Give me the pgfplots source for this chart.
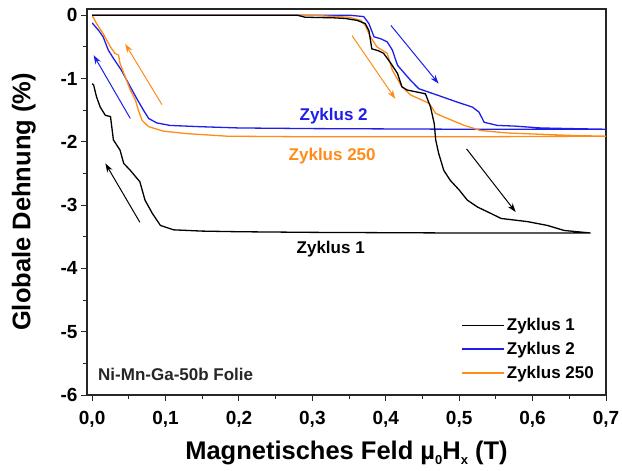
\documentclass[border=0pt]{standalone}
\usepackage{fontspec}
\setmainfont{Liberation Sans}
\usepackage{pgfplots}
\pgfplotsset{compat=1.18}
\usetikzlibrary{arrows.meta}
\definecolor{cblue}{RGB}{30,30,235}
\definecolor{corange}{RGB}{255,140,25}
\begin{document}
\begin{tikzpicture}
\begin{axis}[
  name=ax,
  scale only axis, width=519pt, height=386pt,
  xmin=-0.007, xmax=0.7, ymin=-6, ymax=0.1,
  xtick={0,0.1,0.2,0.3,0.4,0.5,0.6,0.7},
  xticklabels={{0,0},{0,1},{0,2},{0,3},{0,4},{0,5},{0,6},{0,7}},
  ytick={-6,-5,-4,-3,-2,-1,0},
  yticklabels={-6,-5,-4,-3,-2,-1,0},
  minor x tick num=1, minor y tick num=1,
  tick align=outside, tick pos=left,
  major tick length=6pt, minor tick length=3.5pt,
  every tick/.style={black!85, line width=1pt},
  axis line style={line width=1.2pt, black!85},
  ticklabel style={font=\fontsize{19}{22}\selectfont\bfseries},
  xticklabel style={yshift=-7pt},
  xlabel={Magnetisches Feld µ\raisebox{-0.4ex}{\fontsize{13}{13}\selectfont 0}H\raisebox{-0.4ex}{\fontsize{13}{13}\selectfont x} (T)},
  ylabel={Globale Dehnung (\%)},
  xlabel shift=6pt, ylabel shift=18pt,
  label style={font=\fontsize{25.5}{28}\selectfont\bfseries},
  legend style={draw=none, fill=none, at={(1,0)}, anchor=south east, xshift=-9pt, yshift=12pt,
     font=\fontsize{17}{20}\selectfont\bfseries, inner sep=1pt, row sep=6pt},
  legend cell align=left,
  legend image code/.code={\draw[#1] (0pt,0pt) -- (42pt,0pt);},
  clip=true,
]
\addlegendimage{black, line width=1.3pt}
\addlegendentry{Zyklus 1}
\addlegendimage{cblue, line width=1.3pt}
\addlegendentry{Zyklus 2}
\addlegendimage{corange, line width=1.3pt}
\addlegendentry{Zyklus 250}

% Zyklus 2
\addplot[cblue, line width=1.3pt, forget plot] coordinates {
(0.0,0.0) (0.15,0.0) (0.3,0.0) (0.352,0.0) (0.37,-0.02) (0.377,-0.13) (0.384,-0.34)
(0.393,-0.37) (0.402,-0.42) (0.409,-0.55) (0.416,-0.79) (0.434,-1.03) (0.445,-1.16)
(0.47,-1.26) (0.497,-1.37) (0.518,-1.45) (0.527,-1.53) (0.534,-1.69) (0.552,-1.74)
(0.575,-1.75) (0.611,-1.78) (0.652,-1.79) (0.7,-1.80)
(0.5,-1.80) (0.3,-1.79) (0.2,-1.78) (0.147,-1.76) (0.106,-1.74) (0.088,-1.70) (0.077,-1.63)
(0.07,-1.5) (0.061,-1.32) (0.052,-1.13) (0.04,-0.87) (0.029,-0.68) (0.022,-0.55)
(0.015,-0.34) (0.009,-0.24) (0.0,-0.12)
};
% Zyklus 250
\addplot[corange, line width=1.3pt, forget plot] coordinates {
(0.0,0.0) (0.15,0.0) (0.3,0.0) (0.35,-0.03) (0.366,-0.08) (0.372,-0.16) (0.379,-0.34)
(0.388,-0.5) (0.402,-0.6) (0.409,-0.87) (0.422,-1.13) (0.434,-1.26) (0.459,-1.39)
(0.468,-1.55) (0.484,-1.63) (0.507,-1.74) (0.529,-1.82) (0.566,-1.86) (0.611,-1.88)
(0.657,-1.9) (0.7,-1.91)
(0.5,-1.92) (0.3,-1.92) (0.184,-1.91) (0.129,-1.87) (0.097,-1.83) (0.077,-1.76) (0.068,-1.66)
(0.063,-1.5) (0.059,-1.34) (0.052,-1.18) (0.045,-0.97) (0.038,-0.76) (0.036,-0.63)
(0.031,-0.6) (0.025,-0.5) (0.015,-0.29) (0.006,-0.13) (0.0,0.0)
};
% Zyklus 1
\addplot[black, line width=1.3pt, forget plot] coordinates {
(0.0,0.0) (0.1,0.0) (0.2,0.0) (0.28,0.0) (0.29,-0.03) (0.33,-0.04) (0.345,-0.05)
(0.361,-0.08) (0.372,-0.13) (0.377,-0.24) (0.381,-0.53) (0.39,-0.56) (0.397,-0.6)
(0.407,-0.76) (0.416,-0.92) (0.422,-1.13) (0.429,-1.18) (0.454,-1.24) (0.461,-1.45)
(0.466,-1.71) (0.468,-1.97) (0.472,-2.18) (0.479,-2.45) (0.488,-2.61) (0.5,-2.76)
(0.511,-2.92) (0.525,-3.03) (0.543,-3.13) (0.557,-3.21) (0.593,-3.26) (0.62,-3.32)
(0.643,-3.4) (0.679,-3.44)
(0.5,-3.44) (0.3,-3.43) (0.2,-3.42) (0.15,-3.41) (0.111,-3.39) (0.093,-3.32) (0.082,-3.13)
(0.072,-2.92) (0.065,-2.63) (0.052,-2.45) (0.043,-2.34) (0.038,-2.13) (0.029,-1.97)
(0.025,-1.6) (0.018,-1.58) (0.011,-1.45) (0.006,-1.29) (0.002,-1.1) (0.0,-1.08)
};
% arrows
\addplot[black, line width=1pt, -{Stealth[length=9pt,width=6pt]}, forget plot] coordinates {(0.065,-3.27) (0.018,-2.34)};
\addplot[cblue, line width=1pt, -{Stealth[length=9pt,width=6pt]}, forget plot] coordinates {(0.052,-1.63) (0.002,-0.63)};
\addplot[corange, line width=1pt, -{Stealth[length=9pt,width=6pt]}, forget plot] coordinates {(0.095,-1.41) (0.045,-0.45)};
\addplot[corange, line width=1pt, -{Stealth[length=9pt,width=6pt]}, forget plot] coordinates {(0.354,-0.32) (0.413,-1.32)};
\addplot[cblue, line width=1pt, -{Stealth[length=9pt,width=6pt]}, forget plot] coordinates {(0.407,-0.16) (0.472,-1.08)};
\addplot[black, line width=1pt, -{Stealth[length=9pt,width=6pt]}, forget plot] coordinates {(0.51,-2.11) (0.577,-3.11)};

\node[anchor=base, text=cblue, font=\fontsize{17}{20}\selectfont\bfseries, inner sep=0pt] at (axis cs:0.329,-1.66) {Zyklus 2};
\node[anchor=base, text=corange, font=\fontsize{17}{20}\selectfont\bfseries, inner sep=0pt] at (axis cs:0.327,-2.29) {Zyklus 250};
\node[anchor=base, text=black, font=\fontsize{17}{20}\selectfont\bfseries, inner sep=0pt] at (axis cs:0.325,-3.76) {Zyklus 1};
\node[anchor=base west, text=black!85, font=\fontsize{17}{20}\selectfont\bfseries, inner sep=0pt] at (axis cs:0.008,-5.77) {Ni-Mn-Ga-50b Folie};
\end{axis}
\pgfresetboundingbox
\path ([xshift=-87pt,yshift=-75pt]ax.south west) rectangle ([xshift=16pt,yshift=9pt]ax.north east);
\end{tikzpicture}
\end{document}
